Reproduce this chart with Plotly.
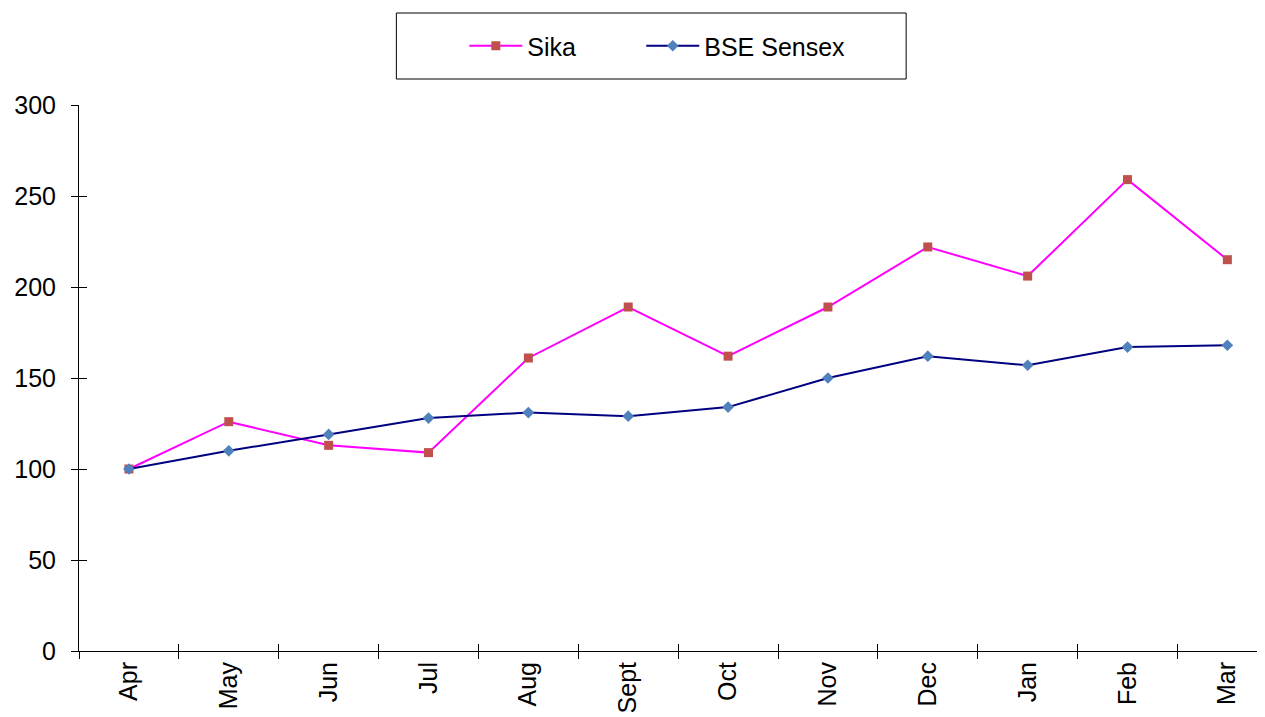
import plotly.graph_objects as go

months = ["Apr", "May", "Jun", "Jul", "Aug", "Sept", "Oct", "Nov", "Dec", "Jan", "Feb", "Mar"]
sika = [100, 126, 113, 109, 161, 189, 162, 189, 222, 206, 259, 215]
sensex = [100, 110, 119, 128, 131, 129, 134, 150, 162, 157, 167, 168]

OFF = 8  # page body margin
W, H = 1265 - OFF, 717 - OFF
L, R, T, B = 78.5 - OFF, 0, 105 - OFF, 66
pw = W - L - R
ph = H - T - B

FONT = "Liberation Sans, Arial, sans-serif"
FS = 25


def px_x(X):
    return (X - 78.5) / pw


def px_y(Y):
    return (651 - Y) / ph


fig = go.Figure()
fig.add_trace(go.Scatter(
    x=months, y=sika, name="Sika", mode="lines+markers",
    line=dict(color="#FF00FF", width=2),
    marker=dict(symbol="square", size=9, color="#C0504D"),
    legend="legend",
))
fig.add_trace(go.Scatter(
    x=months, y=sensex, name="BSE Sensex", mode="lines+markers",
    line=dict(color="#000080", width=2),
    marker=dict(symbol="diamond", size=9, color="#4F81BD"),
    legend="legend2",
))

xr = [-0.5, -0.5 + pw / 99.9]
yr = [0, 300]

leg_common = dict(orientation="h", yanchor="middle", xanchor="left",
                  bgcolor="rgba(0,0,0,0)", borderwidth=0,
                  font=dict(size=FS, family=FONT, color="black"), itemwidth=53)

fig.update_layout(
    width=W, height=H,
    margin=dict(l=L, r=R, t=T, b=B, autoexpand=False),
    paper_bgcolor="white", plot_bgcolor="white",
    font=dict(family=FONT, size=FS, color="black"),
    xaxis=dict(type="category", range=xr, showgrid=False, zeroline=False,
               showline=True, linecolor="black", linewidth=1,
               ticks="", tickangle=-90, tickfont=dict(size=FS),
               categoryorder="array", categoryarray=months),
    xaxis2=dict(overlaying="x", anchor="y", side="bottom", range=xr,
                showgrid=False, zeroline=False, showline=False,
                tickmode="array", tickvals=[i - 0.5 for i in range(12)],
                ticktext=[""] * 12, ticks="outside", ticklen=7, tickcolor="black",
                tickwidth=1),
    xaxis3=dict(overlaying="x", anchor="y", side="bottom", range=xr,
                showgrid=False, zeroline=False, showline=False,
                tickmode="array", tickvals=[i - 0.5 for i in range(12)],
                ticktext=[""] * 12, ticks="inside", ticklen=7, tickcolor="black",
                tickwidth=1),
    yaxis=dict(range=yr, tickvals=[0, 50, 100, 150, 200, 250, 300],
               showgrid=False, zeroline=False, showline=True, linecolor="black",
               linewidth=1, ticks="outside", ticklen=7, tickcolor="black",
               tickfont=dict(size=FS), ticklabelstandoff=10),
    yaxis2=dict(overlaying="y", anchor="x", side="left", range=yr,
                tickvals=[0, 50, 100, 150, 200, 250, 300], ticktext=[""] * 7,
                showgrid=False, zeroline=False, showline=False,
                ticks="inside", ticklen=8, tickcolor="black", tickwidth=1),
    showlegend=True,
    legend=dict(x=px_x(464), y=px_y(46), **leg_common),
    legend2=dict(x=px_x(641), y=px_y(46), **leg_common),
)

# dummy traces to activate overlay axes
fig.add_trace(go.Scatter(x=[None], y=[None], xaxis="x2", showlegend=False, hoverinfo="skip"))
fig.add_trace(go.Scatter(x=[None], y=[None], xaxis="x3", showlegend=False, hoverinfo="skip"))
fig.add_trace(go.Scatter(x=[None], y=[None], yaxis="y2", showlegend=False, hoverinfo="skip"))

fig.add_shape(type="rect", xref="paper", yref="paper",
              x0=px_x(396), x1=px_x(906), y0=px_y(79), y1=px_y(13),
              line=dict(color="black", width=1), fillcolor="rgba(0,0,0,0)")

fig.write_html("out.html")
